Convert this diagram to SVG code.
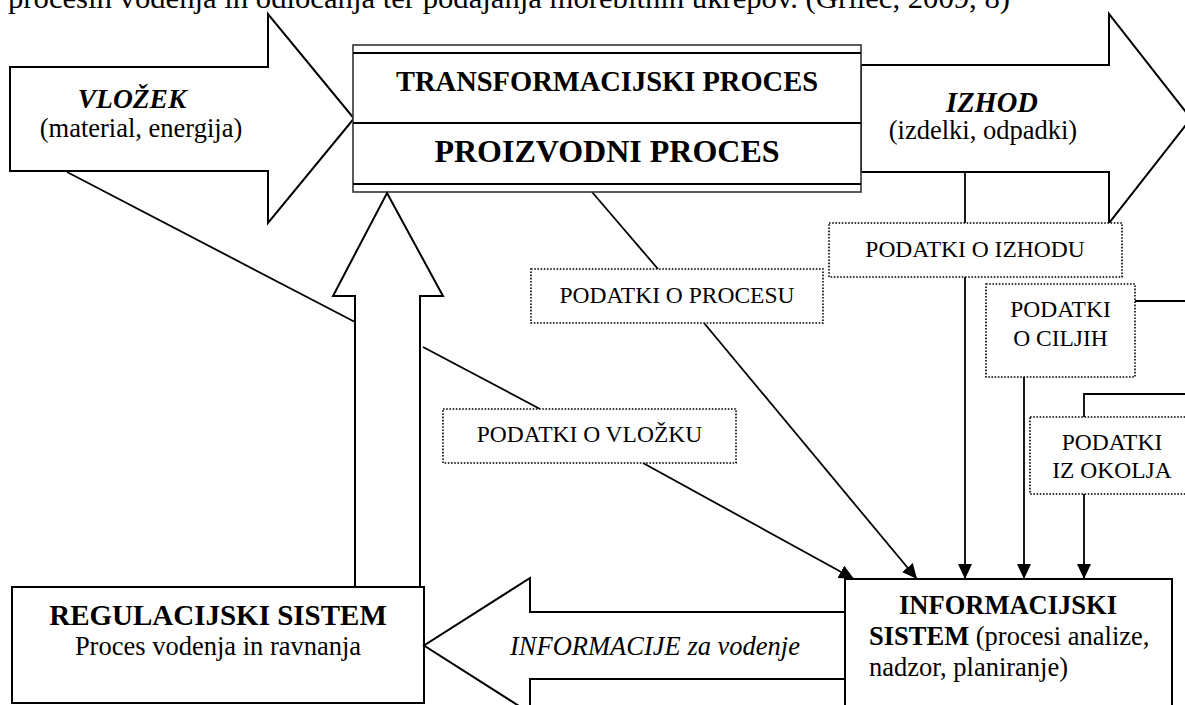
<svg xmlns="http://www.w3.org/2000/svg" width="1185" height="705" viewBox="0 0 1185 705">
<style>
.shape{fill:#fff;stroke:#000;stroke-width:2}
.ln{fill:none;stroke:#000;stroke-width:1.8}
.dot{fill:#fff;stroke:#000;stroke-width:1.6;stroke-dasharray:1.6 1.6}
text{font-family:"Liberation Serif","Times New Roman",serif;fill:#000}
.c{text-anchor:middle}
.r{font-size:26.5px}
.d{font-size:23.5px}
.b{font-weight:bold}
.i{font-style:italic}
</style>
<defs>
<marker id="ah" markerUnits="userSpaceOnUse" markerWidth="16" markerHeight="14" refX="15" refY="7" orient="auto">
<path d="M0,0 L15,7 L0,14 z" fill="#000"/>
</marker>
</defs>
<text x="8" y="8" font-size="30" textLength="1002" lengthAdjust="spacingAndGlyphs">procesih vodenja in odločanja ter podajanja morebitnih ukrepov. (Grilec, 2009, 8)</text>
<g id="connectors">
<line class="ln" x1="67" y1="172" x2="355" y2="322"/>
<line class="ln" x1="423" y1="347" x2="540" y2="409"/>
<line class="ln" x1="643" y1="463" x2="854" y2="579" marker-end="url(#ah)"/>
<line class="ln" x1="592" y1="192" x2="658" y2="269"/>
<line class="ln" x1="704" y1="323" x2="917" y2="579" marker-end="url(#ah)"/>
<line class="ln" x1="965" y1="172" x2="965" y2="223"/>
<line class="ln" x1="965" y1="277" x2="965" y2="579" marker-end="url(#ah)"/>
<line class="ln" x1="1135" y1="301" x2="1185" y2="301"/>
<line class="ln" x1="1024" y1="377" x2="1024" y2="579" marker-end="url(#ah)"/>
<polyline class="ln" points="1084,417 1084,394 1185,394"/>
<line class="ln" x1="1084" y1="494" x2="1084" y2="579" marker-end="url(#ah)"/>
</g>
<g id="vlozek">
<polygon class="shape" points="10,67 268,67 268,14 354,118.5 268,223 268,171 10,171"/>
<text x="132" y="108" class="c b i" font-size="27.5">VLOŽEK</text>
<text x="141" y="137" class="c r">(material, energija)</text>
</g>
<g id="izhod">
<polygon class="shape" points="861,65 1109,65 1109,14 1191,118.5 1109,223 1109,172 861,172"/>
<text x="992" y="112" class="c b i" font-size="28.5">IZHOD</text>
<text x="983" y="139" class="c r">(izdelki, odpadki)</text>
</g>
<g id="proces">
<rect x="353" y="45" width="508" height="147" fill="#fff" stroke="#333" stroke-width="1.6"/>
<line x1="353" y1="53" x2="861" y2="53" stroke="#000" stroke-width="2.2"/>
<line x1="353" y1="123" x2="861" y2="123" stroke="#000" stroke-width="2"/>
<line x1="353" y1="184" x2="861" y2="184" stroke="#000" stroke-width="2.2"/>
<text x="607" y="91" class="c b" font-size="28.5">TRANSFORMACIJSKI PROCES</text>
<text x="607" y="162" class="c b" font-size="32">PROIZVODNI PROCES</text>
</g>
<g id="regulacija-arrow">
<polygon class="shape" points="387,193 443,296 420,296 420,587 355,587 355,296 333,296"/>
</g>
<g id="regulacijski">
<rect class="shape" x="12" y="587" width="412" height="116"/>
<text x="218" y="625" class="c b" font-size="29">REGULACIJSKI SISTEM</text>
<text x="218" y="655" class="c r">Proces vodenja in ravnanja</text>
</g>
<g id="informacije">
<polygon class="shape" points="845,612 530,612 530,578 424,645.5 530,713 530,679 845,679"/>
<text x="655" y="655" class="c r i">INFORMACIJE za vodenje</text>
</g>
<g id="informacijski">
<rect class="shape" x="845" y="579" width="327" height="140"/>
<text x="1008" y="614" class="c b r">INFORMACIJSKI</text>
<text x="869" y="645" class="r"><tspan class="b">SISTEM</tspan> (procesi analize,</text>
<text x="869" y="676" class="r">nadzor, planiranje)</text>
</g>
<g id="podatki-izhod">
<rect class="dot" x="829" y="223" width="293" height="54"/>
<text x="975" y="257" class="c d">PODATKI O IZHODU</text>
</g>
<g id="podatki-proces">
<rect class="dot" x="531" y="269" width="292" height="54"/>
<text x="677" y="303" class="c d">PODATKI O PROCESU</text>
</g>
<g id="podatki-vlozek">
<rect class="dot" x="443" y="409" width="293" height="54"/>
<text x="589.5" y="442" class="c d">PODATKI O VLOŽKU</text>
</g>
<g id="podatki-cilji">
<rect class="dot" x="986" y="284" width="149" height="93"/>
<text x="1060.5" y="317" class="c d">PODATKI</text>
<text x="1060.5" y="346" class="c d">O CILJIH</text>
</g>
<g id="podatki-okolje">
<rect class="dot" x="1030" y="417" width="164" height="77"/>
<text x="1112" y="450" class="c d">PODATKI</text>
<text x="1112" y="478" class="c d">IZ OKOLJA</text>
</g>
</svg>
